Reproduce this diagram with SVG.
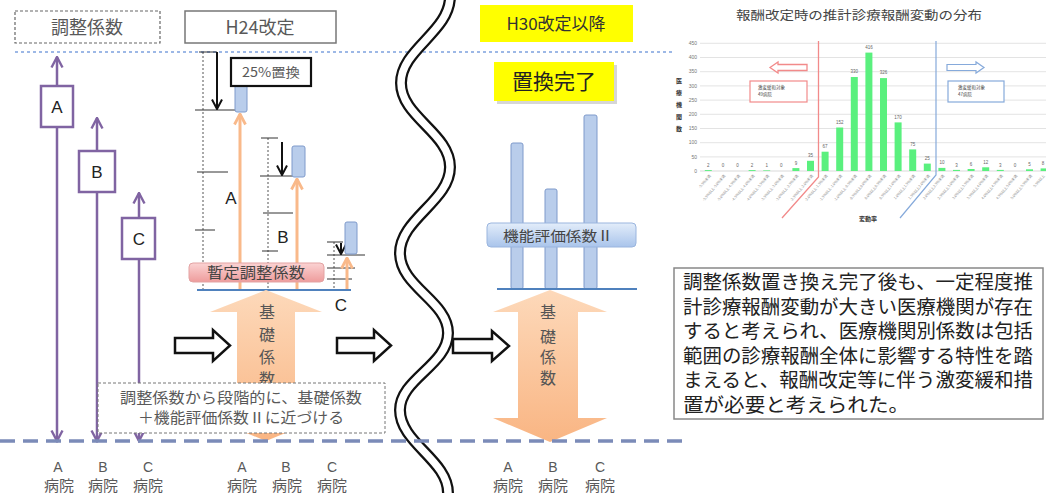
<svg xmlns="http://www.w3.org/2000/svg" width="1046" height="493" viewBox="0 0 1046 493">
<defs>
<style>
.t{font-family:"Noto Sans CJK JP","Noto Sans CJK SC",sans-serif}
.g{fill:#595959}
.lat{font-family:"Liberation Sans","Noto Sans",sans-serif}
.bar{fill:#B9CDEB;stroke:#7F9ACB;stroke-width:1}
.tick{stroke:#333;stroke-width:1}
.dotv{stroke:#555;stroke-width:1;stroke-dasharray:2,2}
.org{stroke:#F9B98A;stroke-width:3;fill:none}
.blk{stroke:#111;stroke-width:2;fill:none}
.pur{stroke:#8064A2;stroke-width:2.5;fill:none}
.pbox{fill:#fff;stroke:#8064A2;stroke-width:2.5}
.hol{fill:#fff;stroke:#111;stroke-width:2.5;stroke-linejoin:miter}
.grid{stroke:#DCDCDC;stroke-width:0.8}
.gb{fill:#5AF07E}
.yl{font-size:5px;fill:#777}
.vl{font-size:4.5px;fill:#666}
.xl{font-size:3.6px;fill:#888}
</style>
<marker id="mP" viewBox="0 0 14 14" refX="12.5" refY="7" markerWidth="14" markerHeight="14" markerUnits="userSpaceOnUse" orient="auto-start-reverse"><path d="M2,1.5 L12.5,7 L2,12.5" fill="none" stroke="#8064A2" stroke-width="2.4"/></marker>
<marker id="mO" viewBox="0 0 14 14" refX="12.5" refY="7" markerWidth="14" markerHeight="14" markerUnits="userSpaceOnUse" orient="auto"><path d="M2,1.5 L12.5,7 L2,12.5" fill="none" stroke="#F9B98A" stroke-width="2.8"/></marker>
<marker id="mB" viewBox="0 0 12 12" refX="11" refY="6" markerWidth="12" markerHeight="12" markerUnits="userSpaceOnUse" orient="auto"><path d="M1.5,1 L11,6 L1.5,11" fill="none" stroke="#111" stroke-width="2"/></marker>
<linearGradient id="gOr" x1="0" y1="0" x2="0" y2="1"><stop offset="0" stop-color="#FDD9BA"/><stop offset="1" stop-color="#F9B583"/></linearGradient>
<linearGradient id="gPk" x1="0" y1="0" x2="0" y2="1"><stop offset="0" stop-color="#FBD3D3"/><stop offset="1" stop-color="#EE9C9C"/></linearGradient>
<linearGradient id="gBl" x1="0" y1="0" x2="0" y2="1"><stop offset="0" stop-color="#E3EDFA"/><stop offset="1" stop-color="#A9C4EB"/></linearGradient>
</defs>
<rect width="1046" height="493" fill="#fff"/>

<!-- top guide line -->
<line x1="15" y1="52" x2="673" y2="52" stroke="#9DB8E6" stroke-width="2" stroke-dasharray="3,3"/>

<!-- headers -->
<g id="hdr-chousei">
<rect x="15" y="11" width="145" height="32" fill="#fff" stroke="#666" stroke-width="1.2" stroke-dasharray="3,2"/>
<text x="87" y="34" class="t g" font-size="18" text-anchor="middle">調整係数</text>
</g>
<g id="hdr-h24">
<rect x="185" y="11" width="151" height="32" fill="#fff" stroke="#777" stroke-width="1.5"/>
<text x="260" y="34" class="t g" font-size="18" text-anchor="middle">H24改定</text>
</g>
<g id="hdr-h30">
<rect x="480" y="5" width="153" height="37" fill="#FFFF00"/>
<text x="556" y="30" class="t" fill="#333" font-size="17" text-anchor="middle">H30改定以降</text>
</g>
<g id="hdr-kanryo">
<rect x="497" y="65" width="120" height="39" fill="#BBBBBB" opacity="0.6"/>
<rect x="494" y="62" width="120" height="39" fill="#FFFF00"/>
<text x="554" y="89" class="t" fill="#222" font-size="21" text-anchor="middle">置換完了</text>
</g>

<!-- wavy break -->
<g id="break">
<path d="M450,-4 C450,32 401,49 401,83 C401,117 450,133 450,167 C450,201 400,219 400,253 C400,287 448,301 448,333 C448,365 400,379 400,410 C400,443 448,460 448,493 C448,498 448,500 447,505" fill="none" stroke="#111" stroke-width="12"/>
<path d="M450,-4 C450,32 401,49 401,83 C401,117 450,133 450,167 C450,201 400,219 400,253 C400,287 448,301 448,333 C448,365 400,379 400,410 C400,443 448,460 448,493 C448,498 448,500 447,505" fill="none" stroke="#fff" stroke-width="7.5"/>
</g>

<!-- connectors -->
<g id="connectors">
<line class="pur" x1="57" y1="57" x2="57" y2="441" marker-start="url(#mP)" marker-end="url(#mP)"/>
<line class="pur" x1="97" y1="118" x2="97" y2="441" marker-start="url(#mP)" marker-end="url(#mP)"/>
<line class="pur" x1="139" y1="193" x2="139" y2="441" marker-start="url(#mP)" marker-end="url(#mP)"/>

<line class="dotv" x1="203" y1="52" x2="203" y2="289"/>
<line class="tick" x1="199" y1="52" x2="217" y2="52"/>
<line class="tick" x1="195" y1="110" x2="236" y2="110"/>
<line class="tick" x1="197" y1="172" x2="228" y2="172"/>
<line class="tick" x1="195" y1="230" x2="215" y2="230"/>
<line class="blk" x1="217" y1="52" x2="217" y2="109" marker-end="url(#mB)"/>

<line class="dotv" x1="268" y1="138" x2="268" y2="289"/>
<line class="tick" x1="261" y1="138" x2="278" y2="138"/>
<line class="tick" x1="260" y1="176" x2="293" y2="176"/>
<line class="tick" x1="263" y1="213" x2="293" y2="213"/>
<line class="tick" x1="262" y1="251" x2="278" y2="251"/>
<line class="blk" x1="282" y1="142" x2="282" y2="175" marker-end="url(#mB)"/>

<line class="dotv" x1="334" y1="242" x2="334" y2="289"/>
<line class="tick" x1="327" y1="242" x2="343" y2="242"/>
<line class="tick" x1="327" y1="255" x2="365" y2="255"/>
<line class="tick" x1="327" y1="268" x2="355" y2="268"/>
<line class="tick" x1="327" y1="279" x2="352" y2="279"/>
<line class="blk" x1="341" y1="243" x2="341" y2="254" marker-end="url(#mB)"/>

<line class="org" x1="240" y1="289" x2="240" y2="114" marker-end="url(#mO)"/>
<line class="org" x1="297" y1="289" x2="297" y2="179" marker-end="url(#mO)"/>
<line class="org" x1="347" y1="289" x2="347" y2="258" marker-end="url(#mO)"/>

<polygon class="hol" points="175,338 213,338 213,330 230,345.5 213,361 213,353 175,353"/>
<polygon class="hol" points="337,338 374,338 374,330 391,345.5 374,361 374,353 337,353"/>
<polygon class="hol" points="453,339 492,339 492,331 509,346 492,361 492,353 453,353"/>
</g>

<!-- purple boxes -->
<g id="node-A"><rect class="pbox" x="41" y="86" width="32" height="41"/><text x="57" y="113" class="lat" font-size="17" fill="#222" text-anchor="middle">A</text></g>
<g id="node-B"><rect class="pbox" x="79" y="151" width="36" height="41"/><text x="97" y="178" class="lat" font-size="17" fill="#222" text-anchor="middle">B</text></g>
<g id="node-C"><rect class="pbox" x="122" y="218" width="33" height="41"/><text x="139" y="245" class="lat" font-size="17" fill="#222" text-anchor="middle">C</text></g>

<!-- H24 bars -->
<g id="h24-bars">
<rect class="bar" x="235" y="82" width="12" height="30" rx="2"/>
<rect class="bar" x="292" y="146" width="13" height="31" rx="2"/>
<rect class="bar" x="345" y="222" width="12" height="32" rx="2"/>
</g>
<g id="node-25">
<rect x="231" y="58" width="80" height="28" fill="#fff" stroke="#111" stroke-width="2.2"/>
<text x="271" y="77" class="t g" font-size="13" text-anchor="middle" textLength="58" lengthAdjust="spacingAndGlyphs">25%置換</text>
</g>
<text x="231" y="204" class="lat" font-size="17" fill="#222" text-anchor="middle">A</text>
<text x="283" y="243" class="lat" font-size="17" fill="#222" text-anchor="middle">B</text>
<text x="341" y="311" class="lat" font-size="17" fill="#222" text-anchor="middle">C</text>

<g id="node-zantei">
<rect x="189" y="263" width="135" height="19" rx="4" fill="url(#gPk)" stroke="#E3A3A3" stroke-width="1"/>
<text x="256" y="278" class="t" fill="#444" font-size="15" text-anchor="middle" textLength="98" lengthAdjust="spacingAndGlyphs">暫定調整係数</text>
</g>
<line x1="197" y1="290" x2="351" y2="290" stroke="#4F81BD" stroke-width="2"/>

<g id="node-kiso1">
<polygon points="266,290 322,312 295,312 295,418 322,418 266,441 210,418 237,418 237,312 210,312" fill="url(#gOr)"/>
<text class="t" fill="#555" font-size="16" text-anchor="middle"><tspan x="267" y="318">基</tspan><tspan x="267" y="341">礎</tspan><tspan x="267" y="363">係</tspan><tspan x="267" y="385">数</tspan></text>
</g>

<g id="node-note">
<rect x="98" y="383" width="287" height="50" fill="#fff" stroke="#777" stroke-width="1" stroke-dasharray="3,2"/>
<text x="241" y="403" class="t g" font-size="15" text-anchor="middle" textLength="242" lengthAdjust="spacingAndGlyphs">調整係数から段階的に、基礎係数</text>
<text x="241" y="423" class="t g" font-size="15" text-anchor="middle" textLength="206" lengthAdjust="spacingAndGlyphs">＋機能評価係数Ⅱに近づける</text>
</g>

<g id="h30-bars">
<rect class="bar" x="511" y="143" width="12" height="146" rx="2"/>
<rect class="bar" x="545" y="189" width="12" height="100" rx="2"/>
<rect class="bar" x="584" y="115" width="13" height="174" rx="2"/>
</g>
<g id="node-kinou">
<rect x="487" y="223" width="149" height="24" rx="4" fill="url(#gBl)" stroke="#9AB5DE" stroke-width="1"/>
<text x="558" y="241" class="t" fill="#444" font-size="14" text-anchor="middle" textLength="110" lengthAdjust="spacingAndGlyphs">機能評価係数Ⅱ</text>
</g>
<line x1="497" y1="289" x2="637" y2="289" stroke="#4F81BD" stroke-width="2"/>

<g id="node-kiso2">
<polygon points="550,290 607,312 578,312 578,418 607,418 550,442 493,418 518,418 518,312 493,312" fill="url(#gOr)"/>
<text class="t" fill="#555" font-size="16" text-anchor="middle"><tspan x="548" y="318">基</tspan><tspan x="548" y="343">礎</tspan><tspan x="548" y="363">係</tspan><tspan x="548" y="384">数</tspan></text>
</g>

<line x1="0" y1="441" x2="690" y2="441" stroke="#7B8BB8" stroke-width="3.5" stroke-dasharray="15,8"/>

<g id="labels" class="g">
<text class="lat" font-size="14" text-anchor="middle"><tspan x="58" y="472">A</tspan><tspan x="103" y="472">B</tspan><tspan x="148" y="472">C</tspan><tspan x="242" y="472">A</tspan><tspan x="286" y="472">B</tspan><tspan x="332" y="472">C</tspan><tspan x="508" y="472">A</tspan><tspan x="553" y="472">B</tspan><tspan x="600" y="472">C</tspan></text>
<text class="t" font-size="15" text-anchor="middle"><tspan x="59" y="491">病院</tspan><tspan x="103" y="491">病院</tspan><tspan x="148" y="491">病院</tspan><tspan x="242" y="491">病院</tspan><tspan x="287" y="491">病院</tspan><tspan x="332" y="491">病院</tspan><tspan x="508" y="491">病院</tspan><tspan x="553" y="491">病院</tspan><tspan x="600" y="491">病院</tspan></text>
</g>

<g id="chart">
<text x="859" y="20" class="t" fill="#444" font-size="12.5" text-anchor="middle" textLength="246" lengthAdjust="spacingAndGlyphs">報酬改定時の推計診療報酬変動の分布</text>
<g>
<line class="grid" x1="700" y1="43.3" x2="1046" y2="43.3"/>
<line class="grid" x1="700" y1="57.5" x2="1046" y2="57.5"/>
<line class="grid" x1="700" y1="71.7" x2="1046" y2="71.7"/>
<line class="grid" x1="700" y1="85.9" x2="1046" y2="85.9"/>
<line class="grid" x1="700" y1="100.1" x2="1046" y2="100.1"/>
<line class="grid" x1="700" y1="114.3" x2="1046" y2="114.3"/>
<line class="grid" x1="700" y1="128.5" x2="1046" y2="128.5"/>
<line class="grid" x1="700" y1="142.7" x2="1046" y2="142.7"/>
<line class="grid" x1="700" y1="156.9" x2="1046" y2="156.9"/>
<line x1="700" y1="171" x2="1046" y2="171" stroke="#CFCFCF" stroke-width="0.8"/>
</g>
<g class="lat yl" text-anchor="end">
<text x="697" y="45">450</text><text x="697" y="59">400</text><text x="697" y="73">350</text><text x="697" y="88">300</text><text x="697" y="102">250</text><text x="697" y="116">200</text><text x="697" y="130">150</text><text x="697" y="144">100</text><text x="697" y="159">50</text><text x="697" y="173">0</text>
</g>
<text class="t" font-size="6" font-weight="bold" fill="#333" text-anchor="middle"><tspan x="679" y="83">医</tspan><tspan x="679" y="95">療</tspan><tspan x="679" y="107">機</tspan><tspan x="679" y="119">関</tspan><tspan x="679" y="131">数</tspan></text>
<g class="gb">
<rect x="704.8" y="170.1" width="7" height="0.9"/>
<rect x="748.6" y="170.1" width="7" height="0.9"/>
<rect x="763.2" y="170.4" width="7" height="0.6"/>
<rect x="792.4" y="168.1" width="7" height="2.9"/>
<rect x="807" y="160.8" width="7" height="10.2"/>
<rect x="821.6" y="151.7" width="7" height="19.3"/>
<rect x="836.2" y="127.5" width="7" height="43.5"/>
<rect x="850.8" y="77" width="7" height="94"/>
<rect x="865.4" y="52.6" width="7" height="118.4"/>
<rect x="880" y="78.1" width="7" height="92.9"/>
<rect x="894.6" y="122.4" width="7" height="48.6"/>
<rect x="909.2" y="149.4" width="7" height="21.6"/>
<rect x="923.8" y="163.6" width="7" height="7.4"/>
<rect x="938.4" y="167.9" width="7" height="3.1"/>
<rect x="953" y="169.9" width="7" height="1.1"/>
<rect x="967.6" y="169" width="7" height="2"/>
<rect x="982.2" y="167.3" width="7" height="3.7"/>
<rect x="996.8" y="169.9" width="7" height="1.1"/>
<rect x="1026" y="169.3" width="7" height="1.7"/>
<rect x="1040.6" y="168.4" width="7" height="2.6"/>
</g>
<g class="lat vl" text-anchor="middle">
<text x="708.3" y="167">2</text><text x="722.9" y="167">0</text><text x="737.5" y="167">0</text><text x="752.1" y="167">2</text><text x="766.7" y="167">1</text><text x="781.3" y="167">0</text><text x="795.9" y="165">9</text><text x="810.5" y="157">35</text><text x="825.1" y="148">67</text><text x="839.7" y="124">152</text><text x="854.3" y="73">330</text><text x="868.9" y="49">416</text><text x="883.5" y="74">326</text><text x="898.1" y="119">170</text><text x="912.7" y="146">75</text><text x="927.3" y="160">25</text><text x="941.9" y="164">10</text><text x="956.5" y="167">3</text><text x="971.1" y="166">6</text><text x="985.7" y="164">12</text><text x="1000.3" y="167">3</text><text x="1014.9" y="167">0</text><text x="1029.5" y="166">5</text><text x="1043" y="165">8</text>
</g>
<g class="t xl" text-anchor="end">
<text transform="translate(711,176) rotate(-50)">-5.5%未満</text>
<text transform="translate(725.6,176) rotate(-50)">-5.5%以上-5.0%未満</text>
<text transform="translate(740.2,176) rotate(-50)">-5.0%以上-4.5%未満</text>
<text transform="translate(754.8,176) rotate(-50)">-4.5%以上-4.0%未満</text>
<text transform="translate(769.4,176) rotate(-50)">-4.0%以上-3.5%未満</text>
<text transform="translate(784,176) rotate(-50)">-3.5%以上-3.0%未満</text>
<text transform="translate(798.6,176) rotate(-50)">-3.0%以上-2.5%未満</text>
<text transform="translate(813.2,176) rotate(-50)">-2.5%以上-2.0%未満</text>
<text transform="translate(827.8,176) rotate(-50)">-2.0%以上-1.5%未満</text>
<text transform="translate(842.4,176) rotate(-50)">-1.5%以上-1.0%未満</text>
<text transform="translate(857,176) rotate(-50)">-1.0%以上-0.5%未満</text>
<text transform="translate(871.6,176) rotate(-50)">-0.5%以上0.0%未満</text>
<text transform="translate(886.2,176) rotate(-50)">0.0%以上0.5%未満</text>
<text transform="translate(900.8,176) rotate(-50)">0.5%以上1.0%未満</text>
<text transform="translate(915.4,176) rotate(-50)">1.0%以上1.5%未満</text>
<text transform="translate(930,176) rotate(-50)">1.5%以上2.0%未満</text>
<text transform="translate(944.6,176) rotate(-50)">2.0%以上2.5%未満</text>
<text transform="translate(959.2,176) rotate(-50)">2.5%以上3.0%未満</text>
<text transform="translate(973.8,176) rotate(-50)">3.0%以上3.5%未満</text>
<text transform="translate(988.4,176) rotate(-50)">3.5%以上4.0%未満</text>
<text transform="translate(1003,176) rotate(-50)">4.0%以上4.5%未満</text>
<text transform="translate(1017.6,176) rotate(-50)">4.5%以上5.0%未満</text>
<text transform="translate(1032.2,176) rotate(-50)">5.0%以上5.5%未満</text>
<text transform="translate(1045,176) rotate(-50)">5.5%以上</text>
</g>
<text x="868" y="221" class="t" font-size="6" font-weight="bold" fill="#333" text-anchor="middle">変動率</text>
<polyline points="818.5,41 818.5,177 782,218" fill="none" stroke="#F28A8A" stroke-width="1.3"/>
<polyline points="936,41 936,175 900,218" fill="none" stroke="#86AADB" stroke-width="1.2"/>
<polygon points="770,67.5 778,62 778,64.5 807,64.5 807,70.5 778,70.5 778,73" fill="#fff" stroke="#F28A8A" stroke-width="1.3"/>
<rect x="750" y="81" width="57" height="21" fill="#fff" stroke="#F28A8A" stroke-width="1.2"/>
<text x="758" y="89" class="t" font-size="4.5" fill="#444">激変緩和対象</text>
<text x="758" y="96" class="t" font-size="4.5" fill="#444">49病院</text>
<polygon points="984,67.5 976,62 976,64.5 947,64.5 947,70.5 976,70.5 976,73" fill="#fff" stroke="#86AADB" stroke-width="1.2"/>
<rect x="948" y="81" width="56" height="21" fill="#fff" stroke="#86AADB" stroke-width="1.2"/>
<text x="958" y="89" class="t" font-size="4.5" fill="#444">激変緩和対象</text>
<text x="958" y="96" class="t" font-size="4.5" fill="#444">47病院</text>
</g>

<g id="node-explain">
<rect x="674" y="268" width="369" height="151" fill="#fff" stroke="#888" stroke-width="1.5"/>
<g class="t" font-size="19.5" fill="#222">
<text x="683" y="289" textLength="350" lengthAdjust="spacingAndGlyphs">調整係数置き換え完了後も、一定程度推</text>
<text x="683" y="314" textLength="350" lengthAdjust="spacingAndGlyphs">計診療報酬変動が大きい医療機関が存在</text>
<text x="683" y="338" textLength="350" lengthAdjust="spacingAndGlyphs">すると考えられ、医療機関別係数は包括</text>
<text x="683" y="363" textLength="350" lengthAdjust="spacingAndGlyphs">範囲の診療報酬全体に影響する特性を踏</text>
<text x="683" y="387" textLength="350" lengthAdjust="spacingAndGlyphs">まえると、報酬改定等に伴う激変緩和措</text>
<text x="683" y="412" textLength="226" lengthAdjust="spacingAndGlyphs">置が必要と考えられた。</text>
</g>
</g>
</svg>
